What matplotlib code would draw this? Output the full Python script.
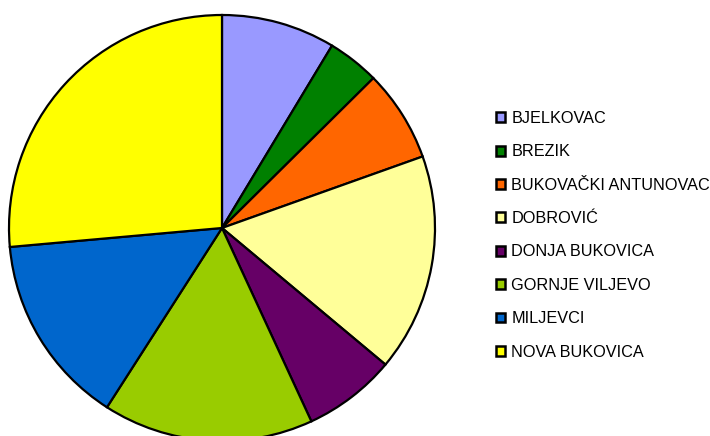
import matplotlib
matplotlib.use("Agg")
import matplotlib.pyplot as plt

categories = ["BJELKOVAC", "BREZIK", "BUKOVAČKI ANTUNOVAC", "DOBROVIĆ",
              "DONJA BUKOVICA", "GORNJE VILJEVO", "MILJEVCI", "NOVA BUKOVICA"]
values = [8.64, 3.94, 6.97, 16.53, 7.03, 15.97, 14.50, 26.42]
colors = ["#9999FF", "#008000", "#FF6600", "#FFFF99",
          "#660066", "#99CC00", "#0066CC", "#FFFF00"]

plt.rcParams['font.family'] = ['Liberation Sans', 'DejaVu Sans']

fig = plt.figure(figsize=(7.10, 4.36), dpi=100)
W, H = 710, 436
cx, cy, r = 222, 228, 213
ax = fig.add_axes([(cx - r) / W, (H - cy - r) / H, 2 * r / W, 2 * r / H])
wedges, _ = ax.pie(values, colors=colors, startangle=90, counterclock=False,
                   wedgeprops=dict(edgecolor="black", linewidth=1.6))
ax.set_xlim(-1, 1)
ax.set_ylim(-1, 1)
ax.set_aspect("equal")
ax.axis("off")

leg = fig.legend(wedges, categories, loc="upper left",
                 bbox_to_anchor=(496 / W, 1 - 111 / H),
                 frameon=False, fontsize=11.7,
                 handlelength=0.55, handleheight=0.55, handletextpad=0.4,
                 labelspacing=1.13, borderpad=0, borderaxespad=0)
for h in leg.legend_handles:
    h.set_linewidth(1.8)

fig.savefig("out.png", dpi=100)
